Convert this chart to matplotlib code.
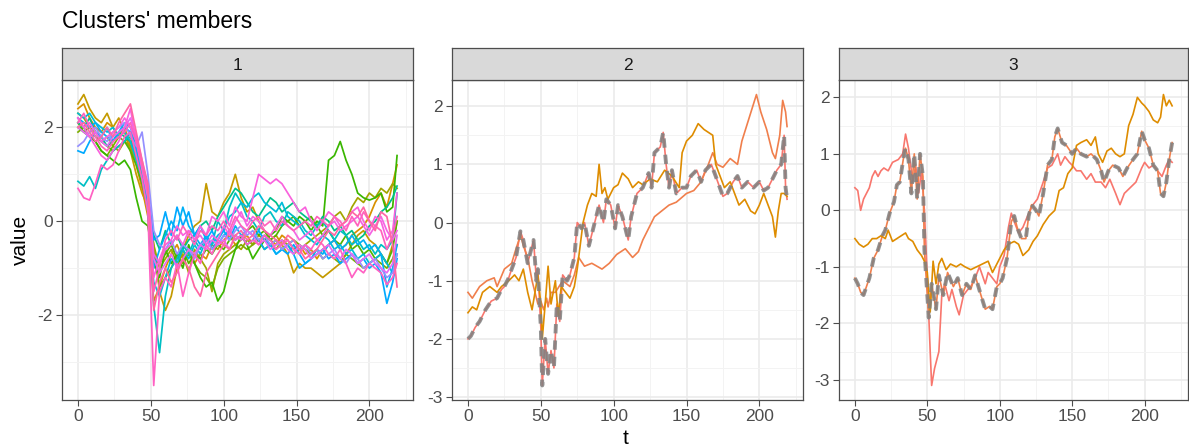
import matplotlib.pyplot as plt
from matplotlib.ticker import MultipleLocator, AutoMinorLocator

plt.rcParams['font.family'] = ['Liberation Sans', 'DejaVu Sans']
plt.rcParams['axes.unicode_minus'] = False

# ---- cluster 1: many members, sampled every 4 steps ----
t1 = [0, 4, 8, 12, 16, 20, 24, 28,
      32, 36, 40, 44, 48, 52, 56, 60,
      64, 68, 72, 76, 80, 84, 88, 92,
      96, 100, 104, 108, 112, 116, 120, 124,
      128, 132, 136, 140, 144, 148, 152, 156,
      160, 164, 168, 172, 176, 180, 184, 188,
      192, 196, 200, 204, 208, 212, 216, 219]

c1_brown = [2.5, 2.7, 2.4, 2.2, 2.1, 2.3, 2.0, 2.2,
            1.9, 1.5, 1.0, 0.6, 0.3, -0.5, -1.5, -1.9,
            -1.6, -1.0, -0.6, -0.3, -0.1, 0.0, 0.8, 0.2,
            0.1, 0.4, 0.6, 1.0, 0.5, 0.2, 0.3, 0.0,
            -0.2, -0.4, -0.3, -0.5, -0.7, -1.1, -0.9, -1.0,
            -1.0, -1.1, -1.2, -1.1, -1.0, -0.9, -0.7, -0.5,
            -0.3, -0.2, -0.4, -0.5, -0.7, -0.9, -0.5, 0.0]
c1_orange = [2.4, 2.5, 2.2, 2.0, 1.9, 2.1, 2.0, 1.8,
             2.0, 1.6, 1.2, 0.7, 0.1, -1.7, -1.4, -1.0,
             -0.7, -0.5, -0.8, -0.6, -0.9, -0.7, -0.8, -0.5,
             -0.6, -0.4, -0.3, -0.5, -0.4, -0.3, -0.5, -0.4,
             -0.3, -0.4, -0.5, -0.3, -0.4, -0.6, -0.5, -0.7,
             -0.6, -0.8, -0.6, -0.5, -0.4, -0.6, -0.5, -0.3,
             -0.2, -0.1, 0.1, 0.4, 0.6, 0.3, 0.8, 1.2]
c1_olive = [2.3, 2.2, 2.0, 1.9, 1.7, 1.8, 1.6, 1.5,
            1.7, 1.6, 1.3, 0.9, 0.4, -0.5, -1.0, -0.8,
            -0.6, -0.9, -0.7, -1.1, -0.6, -0.8, -1.0, -1.5,
            -0.9, -0.7, -0.6, -0.5, -0.6, -0.4, -0.5, -0.3,
            -0.4, -0.5, -0.6, -0.4, -0.5, -0.7, -0.6, -0.5,
            -0.4, -0.3, -0.2, -0.1, 0.1, 0.2, 0.0, 0.3,
            0.5, 0.4, 0.6, 0.5, 0.7, 0.6, 0.8, 0.7]
c1_olive2 = [1.9, 2.0, 1.8, 1.7, 1.5, 1.4, 1.6, 1.8,
             1.7, 1.8, 1.4, 1.0, 0.5, -0.6, -1.4, -1.2,
             -1.0, -0.7, -0.9, -0.7, -0.9, -1.1, -1.2, -1.4,
             -1.0, -0.8, -0.7, -0.6, -0.5, -0.6, -0.5, -0.4,
             -0.6, -0.5, -0.4, -0.6, -0.5, -0.4, -0.5, -0.6,
             -0.7, -0.6, -0.8, -0.7, -0.8, -0.9, -0.7, -0.8,
             -0.9, -1.0, -0.9, -0.8, -0.9, -1.0, -0.8, -0.5]
c1_green = [2.0, 1.9, 1.8, 1.7, 1.5, 1.4, 1.3, 1.2,
            1.3, 1.1, 0.5, 0.0, -0.1, -0.9, -1.2, -0.6,
            -0.9, -0.7, -1.0, -0.5, -0.9, -1.2, -1.4, -1.3,
            -1.7, -1.5, -1.0, -0.6, -0.3, -0.5, -0.8, -0.6,
            -0.4, -0.3, -0.2, 0.1, 0.0, -0.1, 0.1, 0.0,
            -0.2, 0.0, -0.1, 1.3, 1.4, 1.7, 1.3, 1.0,
            0.6, 0.5, 0.45, 0.5, 0.6, 0.2, 0.3, 1.4]
c1_green2 = [2.1, 1.9, 2.0, 1.8, 1.7, 1.6, 1.5, 1.6,
             1.7, 1.5, 1.2, 0.8, 0.3, -0.8, -0.9, -0.7,
             -0.5, -0.8, -0.6, -0.9, -0.7, -0.8, -0.6, -0.7,
             -0.5, -0.6, -0.4, -0.3, -0.4, -0.2, -0.1, -0.3,
             -0.2, -0.4, -0.3, -0.1, 0.0, 0.1, -0.1, 0.0,
             0.1, -0.1, -0.3, -0.2, -0.4, -0.5, -0.3, -0.6,
             -0.5, -0.7, -0.6, -0.8, -0.7, -0.9, -0.6, 0.0]
c1_teal = [2.1, 2.0, 2.2, 1.9, 1.8, 1.6, 1.7, 1.9,
           1.8, 1.7, 1.4, 1.0, 0.5, -0.3, -0.6, -0.2,
           -0.5, -0.3, -0.6, -0.4, -0.3, -0.1, 0.0, -0.2,
           0.1, 0.3, 0.5, 0.7, 0.6, 0.4, 0.2, 0.1,
           0.3, 0.5, 0.4, 0.2, 0.3, 0.4, 0.2, 0.1,
           0.0, -0.1, 0.1, 0.0, -0.2, -0.1, -0.3, -0.2,
           -0.4, -0.3, -0.1, 0.0, 0.2, 0.3, 0.5, 0.75]
c1_teal2 = [0.85, 0.75, 0.95, 0.7, 1.1, 1.3, 1.5, 1.6,
            1.7, 1.9, 1.5, 1.1, 0.3, -1.8, -2.8, -1.6,
            -1.0, -0.8, -0.5, -0.7, -0.4, -0.6, -0.3, -0.5,
            0.0, -0.2, 0.3, 0.6, 0.4, 0.1, 0.0, -0.2,
            0.1, 0.2, 0.0, -0.1, 0.2, 0.1, 0.0, -0.2,
            -0.3, -0.1, 0.0, -0.2, -0.4, -0.2, -0.3, -0.5,
            -0.4, -0.6, -0.5, -0.7, -0.5, -0.6, -0.4, 0.6]
c1_cyan = [2.3, 2.2, 2.3, 2.1, 2.0, 1.9, 2.0, 1.8,
           1.9, 1.7, 1.3, 0.9, 0.2, -1.3, -1.6, -1.2,
           -0.8, -0.9, -0.6, -0.8, -0.5, -0.7, -0.4, -0.5,
           -0.3, -0.2, 0.1, 0.2, 0.4, 0.3, 0.5, 0.6,
           0.4, 0.3, 0.2, 0.4, 0.1, 0.0, -0.1, -0.3,
           -0.4, -0.5, -0.3, -0.4, -0.6, -0.5, -0.7, -0.6,
           -0.8, -0.7, -0.9, -0.8, -0.7, -0.9, -1.1, -0.7]
c1_blue = [1.5, 1.45, 1.7, 1.9, 1.8, 2.0, 1.7, 1.9,
           2.1, 2.0, 1.6, 1.2, 0.6, -0.4, -0.3, 0.2,
           -0.3, 0.3, -0.1, 0.2, -0.3, -0.1, -0.4, -0.2,
           -0.5, -0.3, -0.2, -0.4, -0.3, -0.5, -0.4, -0.2,
           -0.4, -0.5, -0.7, -0.6, -0.7, -0.5, -0.7, -0.9,
           -0.8, -0.7, -0.6, -0.8, -0.7, -0.9, -0.8, -0.7,
           -0.9, -0.8, -1.0, -0.9, -1.1, -1.75, -1.3, -0.8]
c1_blue2 = [2.2, 2.1, 2.0, 2.1, 1.9, 1.8, 1.7, 1.9,
            2.0, 1.9, 1.5, 1.1, 0.4, -1.0, -0.6, -0.3,
            0.0, -0.2, 0.3, -0.1, -0.3, -0.5, -0.3, -0.6,
            -0.4, -0.2, -0.4, -0.1, -0.3, -0.2, -0.3, -0.4,
            -0.6, -0.5, -0.7, -0.6, -0.5, -0.7, -1.0, -0.9,
            -0.8, -0.6, -0.7, -0.5, -0.4, -0.6, -0.5, -0.3,
            -0.5, -0.4, -0.6, -0.5, -0.7, -1.4, -1.0, -0.5]
c1_purple = [1.6, 1.7, 1.9, 2.0, 1.8, 1.7, 1.9, 2.0,
             2.1, 1.8, 1.6, 1.9, 1.0, -0.2, -0.5, -0.6,
             -0.4, -0.7, -0.5, -0.6, -0.8, -0.5, -0.4, -0.6,
             -0.5, -0.3, -0.4, -0.2, -0.1, -0.3, -0.2, -0.4,
             -0.3, -0.5, -0.4, -0.6, -0.5, -0.4, -0.6, -0.5,
             -0.7, -0.6, -0.8, -0.7, -0.6, -0.8, -0.9, -0.7,
             -0.8, -1.0, -0.9, -0.8, -1.0, -1.2, -1.1, -0.7]
c1_magenta = [2.0, 1.9, 1.8, 1.9, 1.7, 1.6, 1.8, 1.9,
              2.0, 2.2, 1.8, 1.3, 0.7, -0.8, -1.1, -0.9,
              -0.7, -1.0, -0.8, -0.6, -0.7, -0.5, -0.6, -0.4,
              -0.5, -0.4, -0.6, -0.3, -0.4, -0.2, -0.3, -0.5,
              -0.4, -0.6, -0.5, -0.4, -0.6, -0.7, -0.5, -0.6,
              -0.8, -0.7, -0.6, -0.5, -0.7, -0.8, -0.6, -0.7,
              -0.9, -0.8, -0.7, -0.9, -1.0, -1.1, -0.9, -0.3]
c1_violet = [2.2, 2.0, 2.1, 1.9, 1.7, 1.8, 1.9, 2.0,
             2.2, 2.0, 1.7, 1.2, 0.6, -0.7, -0.9, -0.6,
             -0.5, -0.3, -0.5, -0.2, -0.4, -0.3, -0.5, -0.3,
             -0.4, -0.1, -0.3, 0.0, 0.2, -0.1, 0.1, 0.0,
             -0.2, -0.3, -0.1, 0.1, -0.1, -0.2, -0.4, -0.3,
             -0.2, -0.4, -0.3, -0.1, 0.0, -0.2, -0.1, 0.0,
             0.1, -0.1, -0.3, -0.1, 0.1, -0.2, -0.4, -0.2]
c1_pink = [2.2, 2.0, 1.8, 1.6, 1.4, 1.3, 1.5, 1.7,
           2.0, 2.4, 1.7, 1.1, 0.5, -1.2, -0.8, -0.5,
           -0.4, -0.1, -0.3, -0.2, -0.4, -0.1, -0.3, 0.1,
           0.0, 0.2, -0.1, 0.3, 0.1, 0.0, 0.5, 1.0,
           0.9, 0.8, 0.9, 0.8, 0.6, 0.4, 0.2, 0.3,
           0.0, -0.2, 0.0, 0.2, 0.1, -0.1, 0.0, 0.2,
           0.3, 0.0, -0.2, 0.1, 0.0, -0.4, -0.2, 0.6]
c1_pink2 = [2.1, 2.3, 2.0, 1.8, 1.6, 1.5, 1.7, 1.8,
            1.9, 2.1, 1.7, 1.2, 0.6, -1.5, -1.0, -0.4,
            -0.2, -0.4, -0.1, -0.3, -0.5, -0.2, -0.3, -0.1,
            -0.2, 0.0, -0.2, 0.1, -0.1, -0.2, 0.0, 0.1,
            -0.1, 0.0, -0.2, 0.0, -0.1, -0.2, -0.1, 0.0,
            -0.1, 0.1, 0.0, -0.1, 0.1, 0.0, -0.2, 0.1,
            -0.1, 0.2, 0.0, -0.1, -0.2, -0.6, -0.3, 0.1]
c1_pink3 = [0.7, 0.5, 0.45, 0.8, 1.2, 1.1, 1.2, 1.5,
            1.8, 1.9, 1.4, 0.9, 0.2, -3.5, -1.5, -1.2,
            -1.4, -0.9, -1.6, -1.1, -0.7, -0.9, -0.5, -0.7,
            -0.4, -0.5, -0.2, -0.4, -0.3, -0.5, -0.4, -0.5,
            -0.3, -0.4, -0.6, -0.5, -0.4, -0.6, -0.7, -0.5,
            -0.6, -0.4, -0.5, -0.7, -0.8, -0.6, -0.9, -1.2,
            -1.0, -1.1, -0.9, -1.0, -1.1, -1.35, -1.2, -0.9]
c1_rose = [2.0, 2.1, 1.9, 1.7, 1.8, 2.0, 1.8, 2.1,
           2.3, 2.5, 1.9, 1.3, 0.8, -1.9, -1.3, -1.0,
           -1.3, -1.1, -0.8, -1.0, -1.4, -1.6, -1.1, -0.9,
           -0.7, -0.5, -0.6, -0.3, -0.2, -0.4, -0.3, -0.1,
           -0.2, -0.3, -0.4, -0.5, -0.3, -0.4, -0.6, -0.8,
           -0.7, -0.6, -0.4, -0.2, -0.3, -0.1, 0.0, 0.2,
           0.1, 0.3, 0.0, -0.2, 0.2, 0.1, -0.5, -1.4]

cluster1 = [
    (c1_brown, '#C49A00'), (c1_orange, '#D89000'), (c1_olive, '#A3A500'),
    (c1_olive2, '#7CAE00'), (c1_green, '#39B600'), (c1_green2, '#53B400'),
    (c1_teal, '#00C08B'), (c1_teal2, '#00BFC4'), (c1_cyan, '#00BCD8'),
    (c1_blue, '#00A9FF'), (c1_blue2, '#00B0F6'), (c1_purple, '#9590FF'),
    (c1_magenta, '#E76BF3'), (c1_violet, '#F564E3'), (c1_pink, '#F962DD'),
    (c1_pink2, '#FF62BC'), (c1_pink3, '#FF61C3'), (c1_rose, '#FF67A4'),
]

# ---- cluster 2 ----
c2a_t = [0, 2, 5, 8, 12, 16, 20, 23, 25, 28,
         30, 33, 36, 38, 41, 43, 45, 47, 48, 50,
         51, 53, 55, 57, 59, 61, 63, 65, 68, 70,
         73, 75, 78, 80, 83, 85, 88, 90, 93, 95,
         98, 101, 103, 106, 110, 112, 116, 120, 124, 126,
         128, 132, 134, 136, 138, 140, 143, 147, 150, 153,
         157, 160, 163, 167, 170, 175, 178, 182, 185, 188,
         192, 196, 200, 203, 206, 210, 212, 215, 217, 218,
         219]
c2a = [-2.0, -1.95, -1.8, -1.7, -1.5, -1.35, -1.3, -1.15, -1.1, -0.95,
       -0.8, -0.6, -0.15, -0.3, -0.7, -0.5, -0.3, -1.0, -0.8, -1.8,
       -2.8, -2.0, -2.6, -2.2, -2.5, -1.4, -1.7, -0.9, -1.0, -0.9,
       -0.6, 0.0, -0.1, 0.0, -0.4, -0.2, 0.1, 0.3, 0.0, 0.4,
       0.3, -0.1, 0.3, 0.1, -0.3, 0.1, 0.5, 0.6, 0.85, 0.6,
       1.2, 1.3, 1.55, 1.0, 0.6, 0.9, 0.5, 0.6, 0.6, 0.8,
       0.9, 0.7, 0.9, 1.0, 0.8, 0.45, 0.5, 0.7, 0.8, 0.6,
       0.7, 0.6, 0.7, 0.55, 0.6, 0.8, 0.9, 1.0, 1.5, 0.6,
       0.4]
c2b_t = [0, 3, 8, 13, 18, 20, 25, 30, 33, 35,
         36, 38, 41, 44, 46, 48, 50, 52, 54, 55,
         57, 60, 65, 70, 73, 76, 80, 85, 92, 97,
         102, 108, 113, 117, 120, 124, 128, 133, 138, 143,
         150, 155, 160, 165, 168, 171, 175, 180, 185, 188,
         193, 198, 201, 205, 209, 211, 214, 216, 218, 219]
c2b = [-1.2, -1.3, -1.1, -1.0, -0.95, -1.1, -0.8, -0.7, -0.45, -0.3,
       -0.2, -0.4, -0.6, -1.0, -1.2, -1.4, -1.35, -1.5, -1.3, -1.45,
       -1.2, -1.2, -1.0, -1.1, -0.9, -0.6, -0.75, -0.7, -0.8, -0.7,
       -0.55, -0.45, -0.6, -0.5, -0.3, -0.1, 0.1, 0.2, 0.3, 0.35,
       0.5, 0.55, 0.7, 1.0, 1.2, 1.0, 0.95, 1.1, 1.0, 1.4,
       1.8, 2.2, 1.9, 1.6, 1.2, 1.1, 1.5, 2.1, 1.9, 1.65]
c2c_t = [0, 3, 6, 10, 15, 20, 23, 28, 32, 35,
         38, 41, 44, 46, 48, 50, 51, 53, 55, 57,
         60, 62, 64, 67, 70, 73, 75, 77, 79, 82,
         85, 88, 90, 92, 94, 96, 100, 103, 106, 110,
         113, 117, 120, 125, 130, 135, 140, 145, 147, 150,
         154, 158, 162, 165, 168, 170, 173, 176, 180, 183,
         186, 190, 194, 197, 200, 203, 206, 209, 211, 213,
         215, 217, 219]
c2c = [-1.55, -1.45, -1.5, -1.2, -1.1, -1.2, -1.1, -1.0, -0.9, -1.0,
       -0.8, -1.2, -1.5, -1.2, -0.9, -1.4, -2.0, -1.4, -0.75, -1.4,
       -1.0, -1.6, -1.1, -1.2, -1.3, -1.1, -0.8, -0.4, 0.0, 0.3,
       0.5, 0.45, 1.0, 0.5, 0.6, 0.4, 0.6, 0.65, 0.85, 0.75,
       0.6, 0.7, 0.65, 0.75, 0.7, 0.9, 0.8, 0.6, 1.2, 1.4,
       1.5, 1.7, 1.6, 1.55, 1.5, 1.0, 0.8, 0.6, 0.7, 0.5,
       0.3, 0.4, 0.2, 0.15, 0.3, 0.5, 0.3, 0.1, -0.25, 0.2,
       0.5, 0.5, 0.45]

# ---- cluster 3 ----
c3a_t = [0, 2, 4, 6, 8, 10, 13, 16, 19, 21,
         24, 27, 29, 31, 34, 35, 37, 39, 41, 43,
         45, 47, 48, 50, 51, 53, 56, 58, 61, 64,
         68, 71, 74, 77, 80, 83, 87, 90, 93, 95,
         98, 100, 102, 105, 108, 110, 112, 115, 118, 120,
         122, 125, 127, 130, 133, 136, 138, 140, 143, 146,
         150, 153, 156, 160, 163, 167, 170, 172, 175, 178,
         182, 185, 188, 192, 195, 198, 200, 203, 206, 209,
         211, 213, 215, 217, 219]
c3a = [-1.2, -1.3, -1.45, -1.5, -1.35, -1.2, -0.85, -0.7, -0.45, -0.35,
       -0.05, 0.15, 0.45, 0.5, 1.0, 1.1, 0.9, 0.3, 1.0, 0.2,
       1.0, 0.6, -0.7, -1.5, -1.9, -1.3, -1.75, -1.15, -1.5, -1.1,
       -1.35, -1.2, -1.5, -1.3, -1.4, -1.15, -1.5, -1.75, -1.7, -1.75,
       -1.35, -1.3, -1.2, -0.85, -0.2, -0.1, -0.3, -0.5, -0.5, -0.1,
       0.1, 0.0, -0.1, 0.3, 0.8, 0.9, 1.3, 1.45, 1.2, 1.15,
       1.0, 1.1, 1.0, 0.95, 1.0, 0.9, 0.7, 0.5, 0.7, 0.8,
       0.75, 0.6, 0.75, 0.9, 1.0, 1.4, 1.25, 1.1, 0.8, 0.7,
       0.3, 0.25, 0.5, 0.9, 1.2]
c3b_t = [0, 2, 4, 6, 8, 10, 12, 14, 16, 18,
         20, 23, 26, 30, 33, 35, 37, 40, 42, 44,
         46, 48, 50, 52, 53, 55, 58, 60, 62, 65,
         67, 70, 72, 75, 78, 80, 83, 86, 88, 90,
         92, 95, 98, 100, 103, 106, 108, 110, 113, 116,
         120, 123, 126, 130, 133, 136, 138, 140, 142, 145,
         148, 150, 153, 156, 160, 163, 166, 170, 173, 176,
         180, 183, 186, 190, 194, 198, 200, 203, 206, 209,
         212, 215, 217, 219]
c3b = [0.4, 0.35, 0.0, 0.2, 0.3, 0.4, 0.6, 0.7, 0.6, 0.7,
       0.75, 0.7, 0.85, 0.9, 1.0, 1.35, 1.1, 0.5, 0.8, 0.3,
       0.7, 0.0, -1.2, -2.5, -3.1, -2.8, -2.5, -1.5, -1.3, -1.6,
       -1.4, -1.7, -1.85, -1.5, -1.4, -1.35, -1.2, -1.0, -1.15, -1.3,
       -1.1, -1.2, -1.3, -1.0, -0.8, -0.3, -0.05, -0.2, -0.4, -0.3,
       -0.05, 0.1, 0.2, 0.5, 0.75, 0.8, 0.9, 1.0, 0.8, 0.95,
       0.85, 0.8, 0.7, 0.7, 0.55, 0.65, 0.5, 0.5, 0.4, 0.55,
       0.3, 0.1, 0.3, 0.4, 0.5, 0.75, 0.85, 0.75, 0.8, 0.7,
       0.6, 0.8, 0.9, 0.85]
c3c_t = [0, 3, 6, 9, 12, 15, 18, 21, 23, 26,
         29, 32, 35, 37, 40, 43, 46, 48, 50, 52,
         54, 56, 58, 60, 63, 66, 70, 73, 76, 80,
         84, 88, 92, 95, 98, 100, 103, 106, 110, 113,
         116, 118, 120, 123, 126, 130, 134, 138, 141, 144,
         147, 150, 153, 156, 160, 163, 166, 168, 171, 174,
         177, 180, 183, 186, 189, 192, 195, 198, 200, 203,
         206, 209, 211, 213, 215, 217, 219]
c3c = [-0.5, -0.6, -0.65, -0.6, -0.5, -0.5, -0.45, -0.5, -0.35, -0.55,
       -0.5, -0.45, -0.4, -0.5, -0.55, -0.7, -0.8, -0.9, -1.1, -1.8,
       -0.9, -1.3, -0.95, -0.85, -1.05, -0.95, -1.0, -0.95, -1.0, -1.05,
       -1.0, -0.95, -0.9, -1.1, -0.95, -0.85, -0.7, -0.6, -0.55, -0.6,
       -0.8, -0.75, -0.7, -0.55, -0.45, -0.25, -0.1, 0.0, 0.35, 0.4,
       0.65, 0.75, 1.15, 1.2, 1.25, 1.15, 1.3, 1.0, 0.85, 1.05,
       1.1, 1.0, 0.95, 1.0, 1.5, 1.7, 2.0, 1.9, 1.85, 1.75,
       1.6, 1.55, 1.65, 2.05, 1.85, 1.95, 1.85]

cluster2 = [(c2a_t, c2a, '#F8766D'), (c2b_t, c2b, '#F07F4C'), (c2c_t, c2c, '#DE8C00')]
cluster3 = [(c3b_t, c3b, '#F8766D'), (c3a_t, c3a, '#F07F4C'), (c3c_t, c3c, '#DE8C00')]
# the medoid of each cluster is one of its members
centroid2 = (c2a_t, c2a)
centroid3 = (c3a_t, c3a)

W, H = 1189, 448
fig = plt.figure(figsize=(W / 100, H / 100), dpi=100)
fig.patch.set_facecolor('white')

panel_x = [(62, 413), (452, 803), (839, 1188)]
panel_top, panel_bottom, strip_top = 80, 400, 48
edge = '#4D4D4D'


def make_panel(i, label, all_values, ymajor):
    x0, x1 = panel_x[i]
    ax = fig.add_axes([x0 / W, 1 - panel_bottom / H, (x1 - x0) / W,
                       (panel_bottom - panel_top) / H])
    strip = fig.add_axes([x0 / W, 1 - panel_top / H, (x1 - x0) / W,
                          (panel_top - strip_top) / H])
    strip.set_facecolor('#D9D9D9')
    strip.set_xticks([])
    strip.set_yticks([])
    for s in strip.spines.values():
        s.set_color(edge)
        s.set_linewidth(0.9)
    strip.text(0.5, 0.45, label, ha='center', va='center', fontsize=12.5,
               color='#1A1A1A', transform=strip.transAxes)

    lo, hi = min(all_values), max(all_values)
    pad = 0.05 * (hi - lo)
    ax.set_ylim(lo - pad, hi + pad)
    ax.set_xlim(-10.95, 229.95)
    ax.xaxis.set_major_locator(MultipleLocator(50))
    ax.xaxis.set_minor_locator(AutoMinorLocator(2))
    ax.yaxis.set_major_locator(MultipleLocator(ymajor))
    ax.yaxis.set_minor_locator(AutoMinorLocator(2))
    ax.grid(which='major', color='#EBEBEB', lw=1.2)
    ax.grid(which='minor', color='#F3F3F3', lw=0.7)
    ax.set_axisbelow(True)
    for s in ax.spines.values():
        s.set_color(edge)
        s.set_linewidth(0.9)
    ax.tick_params(which='major', length=4.2, width=0.8, color=edge,
                   labelcolor='#4D4D4D', labelsize=12.5, pad=2.5)
    ax.tick_params(which='minor', length=0)
    return ax


vals1 = [v for s, _ in cluster1 for v in s]
ax1 = make_panel(0, '1', vals1, 2)
for s, col in cluster1:
    ax1.plot(t1, s, color=col, lw=1.25, solid_joinstyle='round')

vals2 = [v for _, s, _ in cluster2 for v in s]
ax2 = make_panel(1, '2', vals2, 1)
for t, s, col in cluster2:
    ax2.plot(t, s, color=col, lw=1.2)
ax2.plot(centroid2[0], centroid2[1], color='#808080', lw=2.8, alpha=0.85,
         ls=(0, (2.4, 1.8)), solid_capstyle='butt')

vals3 = [v for _, s, _ in cluster3 for v in s]
ax3 = make_panel(2, '3', vals3, 1)
for t, s, col in cluster3:
    ax3.plot(t, s, color=col, lw=1.2)
ax3.plot(centroid3[0], centroid3[1], color='#808080', lw=2.8, alpha=0.85,
         ls=(0, (2.4, 1.8)), solid_capstyle='butt')

fig.text(62 / W, 1 - 21 / H, "Clusters' members", ha='left', va='center',
         fontsize=16.5, color='black')
fig.text(20 / W, 1 - 240 / H, 'value', rotation=90, ha='center', va='center',
         fontsize=15, color='black')
fig.text(625.5 / W, 1 - 438 / H, 't', ha='center', va='center',
         fontsize=15, color='black')

fig.savefig('out.png', dpi=100)
